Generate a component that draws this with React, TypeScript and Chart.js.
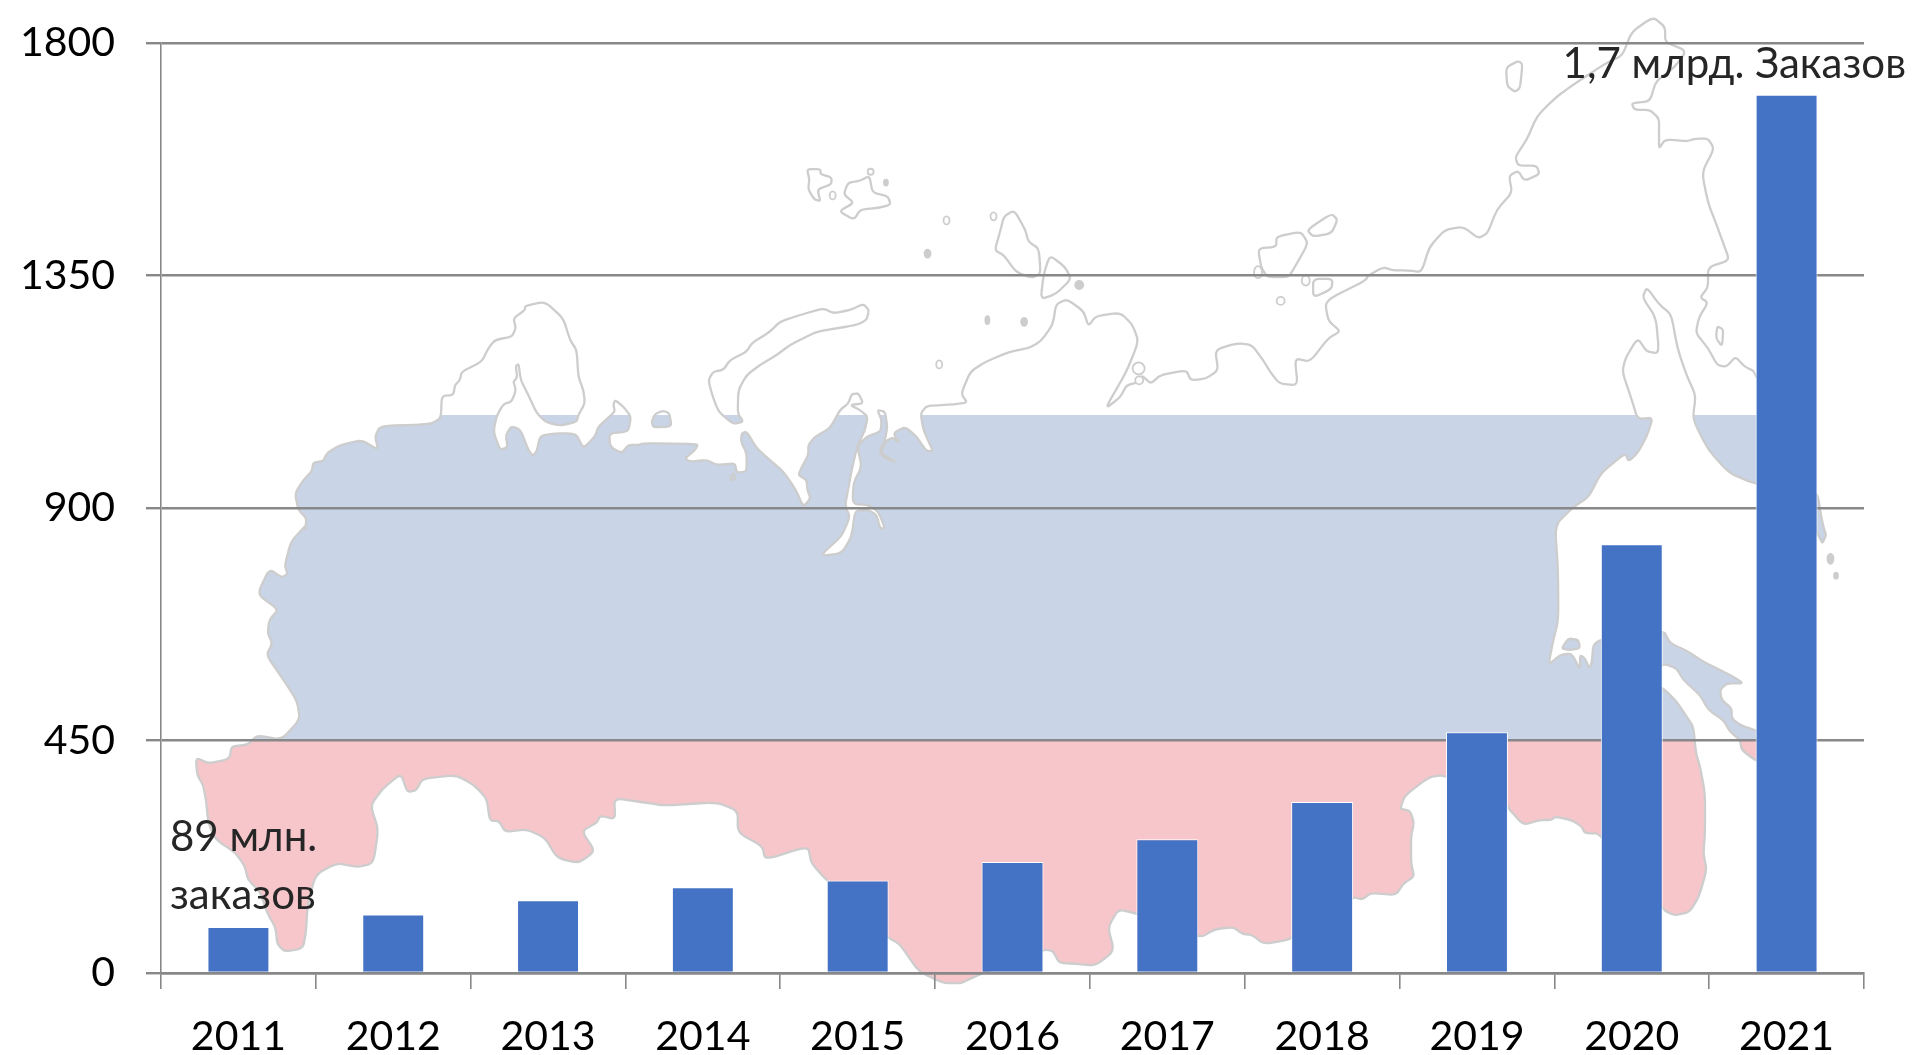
import React, { useEffect, useRef } from "react";
import { Chart, registerables } from "chart.js";

Chart.register(...registerables);

const years = ["2011", "2012", "2013", "2014", "2015", "2016", "2017", "2018", "2019", "2020", "2021"];
const orders = [89, 113, 141, 166, 179, 215, 259, 331, 466, 830, 1700];
const yTickStep = 450;
const yMax = 1800;
const labelStart = ["89 млн.", "заказов"];
const labelEnd = "1,7 млрд. Заказов";

const FONT = "Lato, 'Open Sans', sans-serif";

// Background map traced in crop frames: [origin x, origin y, scale x, scale y]
const frames: Record<string, number[]> = {
  A: [0, 0, 1.6333, 2.958],
  B: [958, 0, 1.6333, 2.958],
  C: [0, 525, 1.6333, 2.958],
  D: [958, 525, 1.6333, 2.958],
  E: [280, 290, 3, 3],
  F: [570, 290, 3, 3],
  G: [770, 380, 3, 3],
  H: [1500, 620, 3, 3],
};

const mainland: [string, number[]][] = [
  ["C", [320,688,322,740,332,770,337,820,340,880,352,930,385,970,400,1010,405,1050,425,1085,437,1150,450,1190,453,1240,465,1262,495,1252,500,1200,502,1130,515,1035,550,1000,585,1012,610,1000,618,900,605,830,625,780,655,735,665,790,680,785,690,750,745,740,775,770,795,810,800,875,815,875,825,908,860,900,890,925,910,985,945,1000,972,965,950,905,975,880,980,860,1005,870,1003,808,1050,820,1085,830,1170,820,1205,845,1205,910,1245,950,1250,990,1320,950,1325,1000,1350,1050,1450,1220,1470,1240,1500,1320,1540,1355,1568,1355]],
  ["D", [5,1355,35,1330,140,1255,155,1260,165,1295,190,1298,225,1303,255,1260,245,1190,262,1137,292,1150,395,1222,420,1195,450,1190,465,1210,480,1212,500,1240,545,1225,645,1100,660,1108,675,1088,715,1095,728,1060,745,1040,740,1000,740,920,745,880,738,845,722,840,730,800,770,745,795,740,900,830]],
  ["H", [25,565,70,615,120,600,155,600,165,590,215,600,245,620,255,640,300,640,490,870]],
  ["D", [1170,1155,1195,1145,1210,1100]],
  ["H", [620,750,610,700,615,640,615,520,600,440,588,400,580,320,560,290,530,245,490,205,430,180,490,130,530,145,550,180,600,225,625,270,670,300,690,335,720,360,725,390,765,420,790,430,790,340,765,330,720,315,695,295,695,265,665,240,660,210,680,190,730,190,700,170,660,150,610,125,560,92,510,70,490,30,300,60,280,75,275,130,268,145,255,115,240,105,240,150,215,100,180,105,145,135,160,60,175,0]],
  ["D", [980,130,975,0]],
  ["B", [1005,1500,1030,1470,1050,1400,1090,1340,1095,1365,1110,1340,1125,1290,1135,1235,1110,1240,1100,1180,1085,1100,1090,1060,1110,1000,1125,1040,1145,1045,1140,940,1118,880,1125,850,1145,900,1165,930,1175,1030,1190,1110,1205,1170,1200,1240,1225,1330,1260,1400,1303,1432,1403,1450,1410,1530,1415,1568]],
  ["D", [1418,30,1410,60]],
  ["B", [1303,1100,1285,1085,1270,1055,1255,1085,1240,1080,1225,1030,1205,985,1210,940,1225,895,1212,880,1225,850,1225,790,1260,770,1250,720,1240,670,1225,600,1215,510,1235,440,1225,410,1205,410,1190,418,1155,412,1145,440,1145,400,1145,350,1130,325,1105,325,1100,305,1130,300,1140,240,1170,200,1190,150,1155,125,1155,80,1135,50,1100,95,1085,165,1060,185,1005,250,975,290,945,345,930,410,910,465,915,490,945,490,950,515,925,535,915,505,900,520,905,570,880,620,865,690,850,705,825,670,795,680,770,730,757,805,735,800,710,800,695,790,670,815,665,830,610,880,600,900,605,950,625,980,605,1000,575,1070,550,1060,555,1140,525,1135,510,1100,500,1070,480,1020,455,1015,420,1035,425,1095,405,1120,380,1125,373,1095,330,1110,315,1135,300,1110,295,1130,275,1140,265,1175,240,1210,275,1100,295,1010,285,960,265,925,225,935,213,965,205,920,178,885,160,900,155,960,135,1010,115,1030,85,1040,45,1070,20,1100,5,1165,15,1190,0,1195]],
  ["G", [520,75,470,78,452,100,460,150,490,215,468,212,440,170,405,140,370,160,388,190,368,172,345,185,332,220,380,247,345,236,328,215,345,180,352,140,345,95,322,90,335,120,332,155,290,170,262,198,275,260,250,310,248,372,295,375,325,395,345,445,330,445,320,405,295,390,255,392,245,470,215,520,150,528,215,468,240,410,225,378,235,325,245,270,262,198,285,150,293,110,270,90,240,75,280,70,265,40,245,42,235,70,210,90,180,145,135,170,115,195,115,225,95,262,85,285,110,300,112,330,122,355,100,380,75,325,40,275,0,240]],
  ["F", [560,475,530,425,515,430,513,455,530,490,530,545,500,548,495,520,440,525,410,510,360,515,345,505,375,480,385,462,280,460,220,460,205,465,175,465,155,490,120,470,118,430,175,425,183,380,160,350,135,330,130,345,135,365,85,410,75,440,40,475,20,435,0,430]],
  ["E", [825,430,780,438,770,485,758,497,745,480,722,420,695,408,677,435,683,472,660,480,640,425,650,378,670,342,695,335,708,300,700,275,712,262,707,228,716,222,722,270,745,315,770,370,800,398,845,407,890,395]],
  ["F", [25,375,45,340,40,300,25,260,20,180,0,150]],
  ["E", [850,85,795,35,735,48,735,60,700,85,708,115,695,140,645,150,625,175,605,215,545,245,540,270,525,285,520,315,485,318,483,385,450,403,300,408,285,440,295,480,245,450,180,465,140,490,130,513,100,518,95,545,70,570,45,610,55,660,80,685,75,720]],
  ["C", [500,0,475,50,465,120,470,145,460,155,440,130,420,205,455,250,440,280,437,320,445,350,435,385,460,450,485,520,490,575,460,635,420,622,405,650,378,655,375,692,340,705]],
];

const islands: [string, number[]][] = [
  ["F", [415,270,430,245,460,240,480,210,530,185,545,160,600,125,630,95,690,75,760,55,790,70,840,60,880,42,897,60,890,90,860,105,740,125,700,145,660,165,620,195,570,225,530,255,505,300,503,370,520,395,490,402,445,365,425,310]],
  ["F", [245,395,255,372,280,362,298,370,305,410,250,412]],
  ["F", [480,568,490,548,497,565,488,570]],
  ["A", [1318,500,1340,500,1340,515,1358,525,1358,545,1335,560,1340,595,1330,590,1320,560,1322,530]],
  ["A", [1420,520,1425,570,1450,580,1455,605,1435,615,1405,620,1395,650,1370,625,1395,600,1378,575,1385,540,1405,535]],
  ["B", [92,622,110,680,115,715,132,735,135,810,120,822,95,805,75,755,60,740,68,690,75,640]],
  ["B", [150,755,140,810,135,885,160,870,185,825,175,790]],
  ["B", [570,680,610,632,620,650,610,690,580,700]],
  ["B", [490,735,520,730,520,700,560,685,572,720,550,790,540,820,505,820,495,790]],
  ["B", [580,825,612,825,610,855,580,880]],
  ["B", [895,200,915,180,922,190,918,260,910,272,897,255]],
  ["B", [1240,965,1250,975,1248,1025,1238,1000]],
  ["H", [185,85,205,55,235,60,240,85,205,90]],
];

// [frame, cx, cy, rx, ry, solid] with radii in page pixels
const islets: [string, number, number, number, number, boolean][] = [
  ["A",1360,578,3,4,false],["A",1422,508,3,3,false],["A",1447,540,2,3,true],["A",1546,652,3,4,false],["A",1515,750,3,4,true],["A",1534,1078,3,4,false],
  ["B",58,640,3,4,false],["B",198,843,4,4,true],["B",48,947,2,4,true],["B",108,952,3,4,true],["B",490,805,4,6,false],["B",568,830,4,5,false],["B",527,890,4,4,false],["B",295,1090,6,6,false],["B",296,1125,4,4,false],
  ["D",1425,100,3,5,true],["D",1434,150,2,3,true],
];

function toPage(frame: string, x: number, y: number): [number, number] {
  const [ox, oy, sx, sy] = frames[frame];
  return [ox + x / sx, oy + y / sy];
}

// Traces a closed shape with rounded corners, as the coastline in the reference is soft.
function tracePoly(ctx: CanvasRenderingContext2D, segs: [string, number[]][]) {
  const p: [number, number][] = [];
  for (const [f, pts] of segs) {
    for (let i = 0; i < pts.length; i += 2) p.push(toPage(f, pts[i], pts[i + 1]));
  }
  const n = p.length;
  const k = 0.3;
  ctx.beginPath();
  for (let i = 0; i < n; i++) {
    const cur = p[i];
    const prev = p[(i - 1 + n) % n];
    const next = p[(i + 1) % n];
    const a: [number, number] = [cur[0] + (prev[0] - cur[0]) * k, cur[1] + (prev[1] - cur[1]) * k];
    const b: [number, number] = [cur[0] + (next[0] - cur[0]) * k, cur[1] + (next[1] - cur[1]) * k];
    if (i === 0) ctx.moveTo(a[0], a[1]);
    else ctx.lineTo(a[0], a[1]);
    ctx.quadraticCurveTo(cur[0], cur[1], b[0], b[1]);
  }
  ctx.closePath();
}

function paintBands(ctx: CanvasRenderingContext2D, yScale: any, width: number, height: number) {
  const midY = yScale.getPixelForValue(450);
  const topY = 415;
  ctx.fillStyle = "#ffffff";
  ctx.fillRect(0, 0, width, topY);
  ctx.fillStyle = "#C9D4E6";
  ctx.fillRect(0, topY, width, midY - topY);
  ctx.fillStyle = "#F6C6CB";
  ctx.fillRect(0, midY, width, height - midY);
}

const mapPlugin = {
  id: "russiaMap",
  beforeDraw(chart: any) {
    const { ctx, width, height } = chart;
    const yScale = chart.scales.y;
    ctx.save();
    ctx.lineJoin = "round";
    ctx.lineCap = "round";
    const shapes: [string, number[]][][] = [mainland, ...islands.map((s) => [s])];
    for (const shape of shapes) {
      ctx.save();
      tracePoly(ctx, shape);
      ctx.clip();
      paintBands(ctx, yScale, width, height);
      ctx.restore();
      tracePoly(ctx, shape);
      ctx.strokeStyle = "#CDCDCD";
      ctx.lineWidth = 2.3;
      ctx.stroke();
    }
    for (const [f, cx, cy, rx, ry, solid] of islets) {
      const [x, y] = toPage(f, cx, cy);
      ctx.beginPath();
      ctx.ellipse(x, y, rx, ry, 0, 0, Math.PI * 2);
      ctx.fillStyle = solid ? "#CDCDCD" : "#ffffff";
      ctx.fill();
      ctx.strokeStyle = "#CDCDCD";
      ctx.lineWidth = 1.8;
      ctx.stroke();
    }
    ctx.restore();
  },
};

const annotationPlugin = {
  id: "annotations",
  afterDatasetsDraw(chart: any) {
    const { ctx, chartArea } = chart;
    const yScale = chart.scales.y;
    ctx.save();
    ctx.fillStyle = "#262626";
    ctx.textBaseline = "alphabetic";
    ctx.font = `42px ${FONT}`;
    ctx.textAlign = "left";
    ctx.fillText(labelStart[0], chartArea.left + 9, 851);
    ctx.fillText(labelStart[1], chartArea.left + 9, 909);
    ctx.textAlign = "right";
    ctx.fillText(labelEnd, chartArea.right + 42, yScale.getPixelForValue(orders[orders.length - 1]) - 17);
    ctx.restore();
  },
};

export default function App() {
  const ref = useRef<HTMLCanvasElement | null>(null);
  useEffect(() => {
    if (!ref.current) return;
    const axisColor = "#888888";
    const chart = new Chart(ref.current, {
      type: "bar",
      data: {
        labels: years,
        datasets: [
          {
            label: "Заказы",
            data: orders,
            backgroundColor: "#4472C4",
            borderColor: "#FFFFFF",
            borderWidth: 1,
            barPercentage: 0.4,
            categoryPercentage: 1,
          },
        ],
      },
      options: {
        animation: false,
        responsive: false,
        maintainAspectRatio: false,
        layout: { padding: { top: 43, right: 54, left: 0, bottom: 0 } },
        plugins: { legend: { display: false }, tooltip: { enabled: false }, title: { display: false } },
        scales: {
          x: {
            afterFit: (s: any) => { s.height = 82; s.paddingLeft = 0; s.paddingRight = 0; },
            grid: { drawOnChartArea: false, drawTicks: true, tickLength: 16, color: axisColor, lineWidth: 1.6 },
            border: { color: axisColor, width: 2.4 },
            ticks: { color: "#000000", font: { family: FONT, size: 41 }, padding: 23, maxRotation: 0, autoSkip: false },
          },
          y: {
            min: 0,
            max: yMax,
            afterFit: (s: any) => { s.width = 161; s.paddingTop = 0; s.paddingBottom = 0; },
            grid: { color: axisColor, lineWidth: 2.4, tickLength: 15 },
            border: { color: axisColor, width: 1.6 },
            ticks: {
              stepSize: yTickStep,
              color: "#000000",
              font: { family: FONT, size: 41 },
              padding: 31,
              callback: (v: any) => String(v),
            },
          },
        },
      },
      plugins: [mapPlugin, annotationPlugin],
    });
    return () => chart.destroy();
  }, []);
  return (
    <div style={{ position: "absolute", left: 0, top: 0, width: 1918, height: 1055, overflow: "hidden", background: "#fff" }}>
      <canvas ref={ref} width={1918} height={1055} style={{ display: "block" }} />
    </div>
  );
}
